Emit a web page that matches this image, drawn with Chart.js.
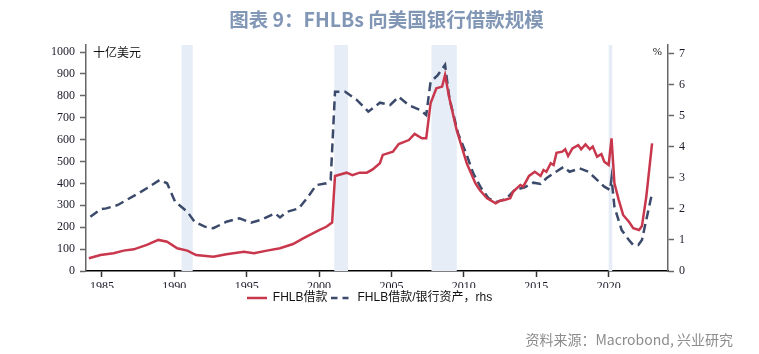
<!DOCTYPE html>
<html>
<head>
<meta charset="utf-8">
<script src="https://cdn.jsdelivr.net/npm/chart.js@4.4.1/dist/chart.umd.min.js"></script>
<style>
  body { margin: 0; background: #fff; }
  #wrap { position: relative; width: 759px; height: 354px; overflow: hidden; }
  #title {
    position: absolute; left: 0; width: 773px; top: 4px; text-align: center;
    font-family: "Noto Sans CJK SC", "Noto Sans", sans-serif; font-weight: bold;
    font-size: 19.5px; color: #8197b5; white-space: pre;
  }
  #source {
    position: absolute; right: 26px; top: 329px;
    font-family: "Noto Sans CJK SC", "Noto Sans", sans-serif;
    font-size: 14px; color: #8c8c8c;
  }
  canvas { position: absolute; left: 0; top: 0; }
</style>
</head>
<body>
<div id="wrap">
  <canvas id="myChart" width="759" height="354"></canvas>
  <div id="title">图表 9：FHLBs 向美国银行借款规模</div>
  <div id="source">资料来源：Macrobond, 兴业研究</div>
</div>
<script>
// FHLB借款 (十亿美元), 左轴
const loanYears = [1984.1, 1984.9, 1985.8, 1986.5, 1987.2, 1988.1, 1988.9, 1989.5, 1990.2, 1990.9,
  1991.5, 1992.7, 1993.6, 1994.8, 1995.5, 1996.4, 1997.3, 1998.2, 1998.9, 2000.0,
  2000.5, 2000.9, 2001.1, 2001.9, 2002.3, 2002.8, 2003.3, 2003.7, 2004.2, 2004.4,
  2005.1, 2005.5, 2006.2, 2006.6, 2007.1, 2007.4, 2007.7, 2008.1, 2008.5, 2008.7,
  2009.0, 2009.5, 2010.2, 2010.8, 2011.1, 2011.6, 2012.2, 2012.5, 2012.8, 2013.2,
  2013.4, 2013.9, 2014.1, 2014.5, 2014.9, 2015.3, 2015.5, 2015.7, 2016.0, 2016.2,
  2016.4, 2016.8, 2017.0, 2017.2, 2017.5, 2017.9, 2018.1, 2018.4, 2018.7, 2018.9,
  2019.2, 2019.5, 2019.7, 2020.0, 2020.2, 2020.4, 2020.7, 2021.0, 2021.4, 2021.7,
  2022.1, 2022.3, 2022.6, 2023.0];
const loanValues = [58, 73, 81, 93, 99, 119, 142, 134, 104, 93,
  73, 65, 76, 88, 81, 93, 104, 123, 149, 187,
  202, 221, 434, 449, 438, 449, 449, 464, 492, 530,
  545, 580, 598, 626, 606, 606, 766, 834, 842, 895,
  789, 644, 492, 400, 370, 332, 309, 321, 324, 332,
  362, 393, 385, 434, 453, 434, 461, 453, 492, 484,
  540, 545, 556, 525, 560, 575, 556, 578, 556, 568,
  522, 534, 499, 484, 606, 400, 324, 256, 225, 195,
  187, 205, 339, 583];

// FHLB借款/银行资产 (%), 右轴
const ratioYears = [1984.2, 1984.9, 1985.3, 1986.1, 1986.7, 1987.5, 1988.1, 1989.0, 1989.5, 1990.05,
  1990.9, 1991.4, 1992.1, 1992.7, 1993.6, 1994.5, 1995.3, 1996.0, 1996.95, 1997.3,
  1997.8, 1998.6, 1999.25, 1999.8, 2000.5, 2000.8, 2001.1, 2001.8, 2002.6, 2003.4,
  2004.2, 2004.9, 2005.5, 2006.2, 2007.0, 2007.4, 2007.7, 2008.2, 2008.7, 2009.0,
  2009.6, 2010.2, 2010.65, 2011.2, 2011.7, 2012.2, 2012.9, 2013.5, 2014.2, 2014.8,
  2015.3, 2015.7, 2016.2, 2016.9, 2017.3, 2018.0, 2018.6, 2019.2, 2019.7, 2020.1,
  2020.2, 2020.4, 2020.9, 2021.4, 2021.7, 2022.05, 2022.3, 2022.6, 2023.0];
const ratioValues = [1.75, 1.99, 2.02, 2.13, 2.29, 2.5, 2.67, 2.94, 2.83, 2.24,
  1.91, 1.59, 1.43, 1.38, 1.59, 1.70, 1.56, 1.65, 1.86, 1.73,
  1.91, 2.02, 2.40, 2.77, 2.83, 2.94, 5.78, 5.78, 5.52, 5.14,
  5.43, 5.35, 5.62, 5.35, 5.19, 5.03, 6.1, 6.32, 6.65, 5.57,
  4.44, 3.74, 3.15, 2.67, 2.35, 2.22, 2.32, 2.61, 2.70, 2.85,
  2.81, 2.99, 3.15, 3.36, 3.2, 3.31, 3.2, 2.94, 2.72, 2.61,
  2.99, 2.07, 1.32, 1.0, 0.84, 0.84, 1.0, 1.65, 2.51];

// 衰退期 (阴影)
const recessionStarts = [1990.5, 2001.05, 2007.76, 2020.0];
const recessionEnds = [1991.27, 2002.0, 2009.51, 2020.25];

const xTicks = [1985, 1990, 1995, 2000, 2005, 2010, 2015, 2020];
const leftTicks = [0, 100, 200, 300, 400, 500, 600, 700, 800, 900, 1000];
const rightTicks = [0, 1, 2, 3, 4, 5, 6, 7];

const tickFont = { family: "'Liberation Serif', 'Noto Sans CJK SC', serif", size: 12 };

// 图例里的线段样式 (小画布)
function legendLine(color, dash) {
  const c = document.createElement("canvas");
  c.width = 20;
  c.height = 4;
  const g = c.getContext("2d");
  g.strokeStyle = color;
  g.lineWidth = 2.5;
  g.setLineDash(dash);
  g.beginPath();
  g.moveTo(0, 2);
  g.lineTo(20, 2);
  g.stroke();
  return c;
}

// 衰退期阴影
const bandsPlugin = {
  id: "bands",
  beforeDatasetsDraw(chart) {
    const { ctx, chartArea, scales } = chart;
    ctx.save();
    ctx.fillStyle = "#e6edf7";
    recessionStarts.forEach((s, i) => {
      const x1 = scales.x.getPixelForValue(s);
      const x2 = scales.x.getPixelForValue(recessionEnds[i]);
      ctx.fillRect(x1, chartArea.top, x2 - x1, chartArea.bottom - chartArea.top);
    });
    ctx.restore();
  },
};

// 单位标注
const unitsPlugin = {
  id: "units",
  afterDraw(chart) {
    const { ctx, chartArea } = chart;
    ctx.save();
    ctx.font = "12px 'Noto Sans CJK SC', serif";
    ctx.fillStyle = "#111";
    ctx.textBaseline = "middle";
    ctx.textAlign = "left";
    ctx.fillText("十亿美元", chartArea.left + 7, 52);
    ctx.textAlign = "right";
    ctx.font = "11px 'Liberation Serif', serif";
    ctx.fillText("%", chartArea.right - 6, 52);
    ctx.restore();
  },
};

const ctx = document.getElementById("myChart");

new Chart(ctx, {
  type: "line",
  data: {
    datasets: [
      {
        label: "FHLB借款",
        data: loanYears.map((y, i) => ({ x: y, y: loanValues[i] })),
        yAxisID: "y",
        borderColor: "#c9374c",
        backgroundColor: "#c9374c",
        borderWidth: 2.5,
        pointRadius: 0,
        pointStyle: legendLine("#c9374c", []),
        tension: 0,
      },
      {
        label: "FHLB借款/银行资产，rhs",
        data: ratioYears.map((y, i) => ({ x: y, y: ratioValues[i] })),
        yAxisID: "y2",
        borderColor: "#3b4a6b",
        backgroundColor: "#3b4a6b",
        borderWidth: 2.5,
        borderDash: [9, 5],
        pointRadius: 0,
        pointStyle: legendLine("#3b4a6b", [6, 5]),
        tension: 0,
      },
    ],
  },
  options: {
    responsive: false,
    animation: false,
    layout: {
      padding: { top: 45, left: 0, right: 20, bottom: 40 },
    },
    scales: {
      x: {
        type: "linear",
        min: 1983.9,
        max: 2024.1,
        afterFit: (scale) => { scale.height = 17; },
        afterBuildTicks: (scale) => { scale.ticks = xTicks.map((v) => ({ value: v })); },
        border: { display: true, color: "#000", width: 1.5 },
        grid: { drawOnChartArea: false, tickLength: 6, color: "#333", tickWidth: 1.5 },
        ticks: {
          font: tickFont,
          color: "#1a1a2a",
          padding: 3,
          maxRotation: 0,
          callback: (v) => String(v),
        },
      },
      y: {
        position: "left",
        min: 0,
        max: 1032,
        afterFit: (scale) => { scale.width = 86; },
        afterBuildTicks: (scale) => { scale.ticks = leftTicks.map((v) => ({ value: v })); },
        border: { display: true, color: "#666", width: 1.5 },
        grid: { drawOnChartArea: false, tickLength: 6, color: "#666", tickWidth: 1.5 },
        ticks: { font: tickFont, color: "#1a1a2a", padding: 5, callback: (v) => String(v) },
      },
      y2: {
        position: "right",
        min: 0,
        max: 7.29,
        afterFit: (scale) => { scale.width = 71; },
        afterBuildTicks: (scale) => { scale.ticks = rightTicks.map((v) => ({ value: v })); },
        border: { display: true, color: "#666", width: 1.5 },
        grid: { drawOnChartArea: false, tickLength: 6, color: "#666", tickWidth: 1.5 },
        ticks: { font: tickFont, color: "#1a1a2a", padding: 5, callback: (v) => String(v) },
      },
    },
    plugins: {
      legend: {
        position: "bottom",
        labels: {
          font: { family: "'Liberation Sans', 'Noto Sans CJK SC', sans-serif", size: 12 },
          color: "#111",
          usePointStyle: true,
          pointStyleWidth: 20,
          padding: 4,
        },
      },
      tooltip: { enabled: false },
    },
  },
  plugins: [bandsPlugin, unitsPlugin],
});
</script>
</body>
</html>
